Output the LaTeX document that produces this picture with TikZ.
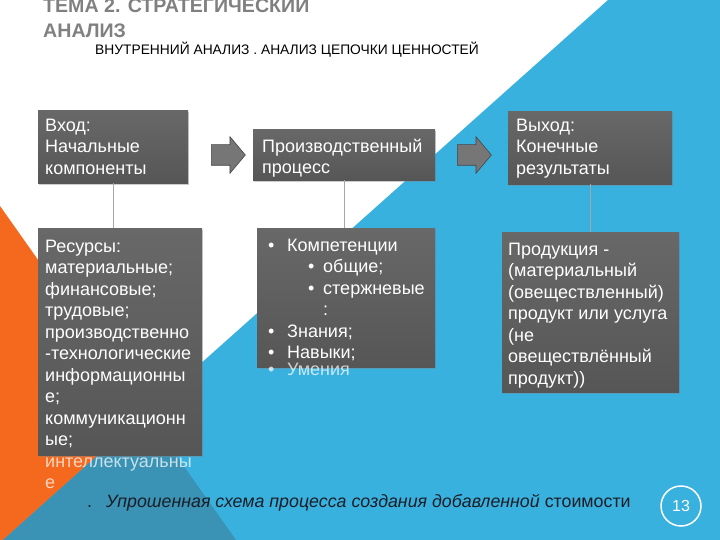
\documentclass[tikz,border=0pt]{standalone}
\usepackage{fontspec}
\setmainfont{Liberation Sans}
\usetikzlibrary{shapes.arrows,shadows}

\definecolor{blau}{RGB}{57,177,223}
\definecolor{orange}{RGB}{244,105,30}
\definecolor{petrol}{RGB}{58,146,180}
\definecolor{kastenhell}{RGB}{104,104,104}
\definecolor{kastendunkel}{RGB}{86,86,86}
\definecolor{liniengrau}{RGB}{166,166,166}
\definecolor{pfeilgrau}{RGB}{118,118,118}
\definecolor{pfeilrand}{RGB}{70,70,70}
\definecolor{titelgrau}{RGB}{128,128,128}
\definecolor{unterschrift}{RGB}{25,30,38}

\begin{document}
\begin{tikzpicture}[
  x=1pt, y=-1pt,
  kasten/.style={
    shape=rectangle, anchor=north west, inner sep=0pt,
    top color=kastenhell, bottom color=kastendunkel,
    drop shadow={shadow xshift=1pt, shadow yshift=-1.5pt, opacity=0.4}
  },
  inhalt/.style={
    anchor=north west, inner sep=0pt, align=left, text=white,
    font=\fontsize{18}{21.5}\selectfont
  },
  ueberlauf/.style={
    anchor=base west, inner sep=0pt, text=white, text opacity=0.72,
    font=\fontsize{18}{21.5}\selectfont
  },
  pfeil/.style={
    shape=single arrow, fill=pfeilgrau, draw=pfeilrand, line width=0.6pt,
    inner xsep=0pt, inner ysep=10pt, minimum height=34pt,
    single arrow head extend=8pt, single arrow tip angle=100
  },
  verbindung/.style={draw=liniengrau, line width=1pt}
]
\useasboundingbox (0,0) rectangle (720,540);

% hintergrund
\fill [white] (0,0) rectangle (720,540);
\fill [orange] (0,206) -- (236,540) -- (0,540) -- cycle;
\fill [blau] (608,0) -- (720,0) -- (720,540) -- (3,540) -- cycle;
\begin{scope}
  \clip (0,206) -- (236,540) -- (0,540) -- cycle;
  \fill [petrol] (608,0) -- (720,0) -- (720,540) -- (3,540) -- cycle;
\end{scope}

% titel
\draw (43,13) node [anchor=base west, inner sep=0pt, text=titelgrau,
  font=\fontsize{19.6}{24}\selectfont\bfseries] (titel1) {ТЕМА 2. СТРАТЕГИЧЕСКИЙ};
\draw (43,38) node [anchor=base west, inner sep=0pt, text=titelgrau,
  font=\fontsize{19.6}{24}\selectfont\bfseries] (titel2) {АНАЛИЗ};
\draw (95,55) node [anchor=base west, inner sep=0pt,
  font=\fontsize{13.8}{16}\selectfont] (untertitel)
  {ВНУТРЕННИЙ АНАЛИЗ . АНАЛИЗ ЦЕПОЧКИ ЦЕННОСТЕЙ};

% kaesten oben
\draw (38,110) node [kasten, minimum width=150, minimum height=73] (k1) {};
\draw (253,129) node [kasten, minimum width=182, minimum height=51] (k2) {};
\draw (508,111) node [kasten, minimum width=164, minimum height=73] (k3) {};

% kaesten unten
\draw (38,228) node [kasten, minimum width=164, minimum height=227] (k4) {};
\draw (257,228) node [kasten, minimum width=178, minimum height=139] (k5) {};
\draw (502,232) node [kasten, minimum width=177, minimum height=160] (k6) {};

\path [verbindung]
  (k1.south) edge (k1.south |- k4.north)
  (k2.south) edge (k2.south |- k5.north)
  (k3.south) edge (k3.south |- k6.north);

\draw (224,155) node [pfeil] (p1) {};
\draw (470,155) node [pfeil] (p2) {};

% texte
\draw (45,118.5) node [inhalt] (t1) {Вход:\\Начальные\\компоненты};
\draw (262,138.5) node [inhalt] (t2) {Производственный\\процесс};
\draw (516,118.5) node [inhalt] (t3) {Выход:\\Конечные\\результаты};

\draw (45,239.5) node [inhalt] (t4) {Ресурсы:\\материальные;\\финансовые;\\трудовые;\\производственно\\-технологические\\информационны\\е;\\коммуникационн\\ые;};
\draw (45,467) node [ueberlauf] (t4b) {интеллектуальны};
\draw (45,488.5) node [ueberlauf] (t4c) {е};

\draw (268,238.5) node [inhalt] (t5) {\makebox[19pt][l]{•}Компетенции\\
  \hspace*{40pt}\makebox[15pt][l]{•}общие;\\
  \hspace*{40pt}\makebox[15pt][l]{•}стержневые\\
  \hspace*{55pt}:\\
  \makebox[19pt][l]{•}Знания;\\
  \makebox[19pt][l]{•}Навыки;};
\draw (268,375) node [ueberlauf] (t5b) {\makebox[19pt][l]{•}Умения};

\draw (508,242.5) node [inhalt] (t6) {Продукция -\\(материальный\\(овеществленный)\\продукт или услуга\\(не\\овеществлённый\\продукт))};

% unterschrift
\draw (87,507) node [anchor=base west, inner sep=0pt, text=unterschrift,
  font=\fontsize{17.8}{21}\selectfont] (unterschrift)
  {.\hspace{14pt}\textit{Упрошенная схема процесса создания добавленной} стоимости};

\draw (681,506) node [circle, draw=white, line width=1.5pt, minimum size=40pt,
  inner sep=0pt, text=white, font=\fontsize{16}{16}\selectfont] (nr) {13};
\end{tikzpicture}
\end{document}
